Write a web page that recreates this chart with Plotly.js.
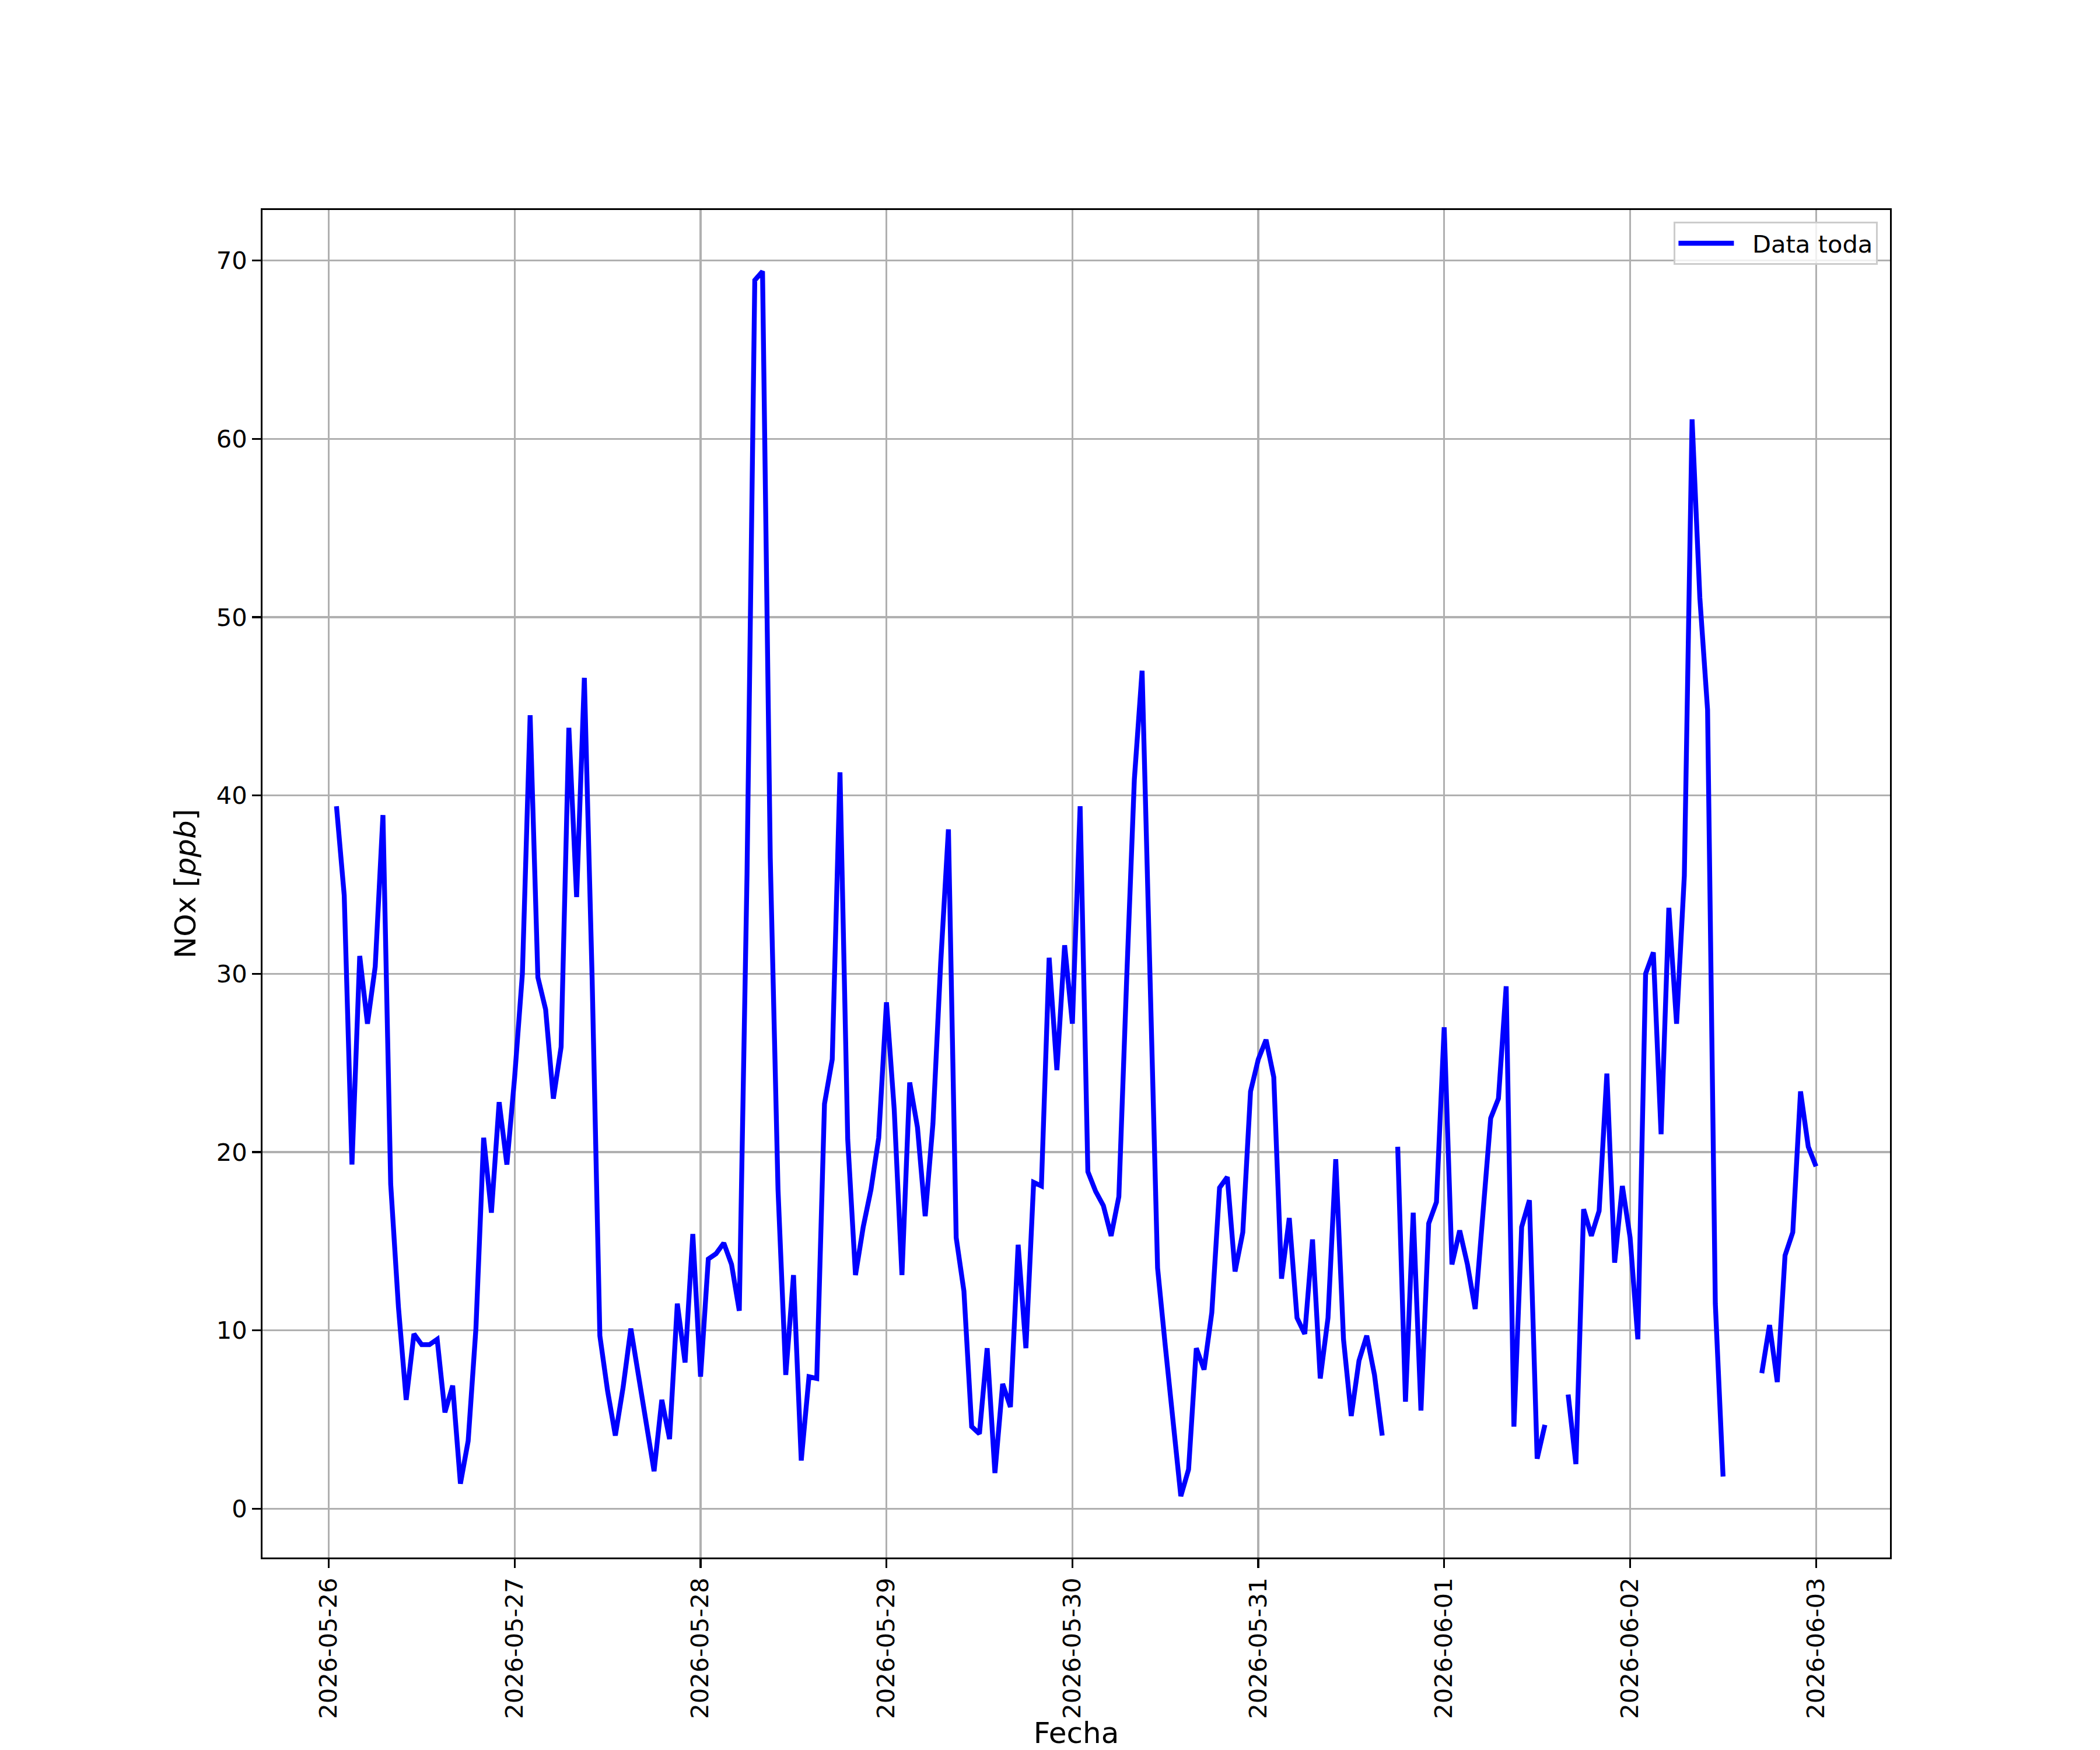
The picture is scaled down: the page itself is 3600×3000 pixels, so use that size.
<!DOCTYPE html>
<html>
<head>
<meta charset="utf-8">
<script src="https://cdn.plot.ly/plotly-3.0.1.min.js"></script>
<style>
  html, body { margin: 0; padding: 0; background: #ffffff; }
  #chart { width: 3600px; height: 3000px; }
</style>
</head>
<body>
<div id="chart"></div>
<script>
// ---- Data (hourly NOx values in ppb; null = missing) ----
const days = ['2026-05-26', '2026-05-27', '2026-05-28', '2026-05-29',
              '2026-05-30', '2026-05-31', '2026-06-01', '2026-06-02', '2026-06-03'];
const hours = ['00', '01', '02', '03', '04', '05', '06', '07', '08', '09', '10', '11',
               '12', '13', '14', '15', '16', '17', '18', '19', '20', '21', '22', '23'];

const nox_0526 = [null, 39.4, 34.4, 19.3, 31.0, 27.2, 30.4, 38.9, 18.2, 11.3, 6.1, 9.8,
                  9.2, 9.2, 9.5, 5.4, 6.9, 1.4, 3.8, 10.1, 20.8, 16.6, 22.8, 19.3];
const nox_0527 = [24.2, 30.0, 44.5, 29.8, 28.0, 23.0, 25.9, 43.8, 34.3, 46.6, 29.8, 9.7,
                  6.6, 4.1, 6.8, 10.1, 7.4, 4.6, 2.1, 6.1, 3.9, 11.5, 8.2, 15.4];
const nox_0528 = [7.4, 14.0, 14.3, 14.9, 13.7, 11.1, 35.6, 68.9, 69.4, 36.5, 17.9, 7.5,
                  13.1, 2.7, 7.4, 7.3, 22.7, 25.2, 41.3, 20.7, 13.1, 15.8, 17.9, 20.8];
const nox_0529 = [28.4, 22.4, 13.1, 23.9, 21.4, 16.4, 21.6, 30.6, 38.1, 15.2, 12.2, 4.6,
                  4.2, 9.0, 2.0, 7.0, 5.7, 14.8, 9.0, 18.3, 18.1, 30.9, 24.6, 31.6];
const nox_0530 = [27.2, 39.4, 18.9, 17.8, 17.0, 15.3, 17.5, 29.6, 40.9, 47.0, 29.5, 13.5,
                  9.1, 5.0, 0.7, 2.2, 9.0, 7.8, 11.0, 18.0, 18.6, 13.3, 15.5, 23.4];
const nox_0531 = [25.2, 26.3, 24.2, 12.9, 16.3, 10.7, 9.8, 15.1, 7.3, 10.7, 19.6, 9.5,
                  5.2, 8.3, 9.7, 7.5, 4.1, null, 20.3, 6.0, 16.6, 5.5, 16.0, 17.2];
const nox_0601 = [27.0, 13.7, 15.6, 13.7, 11.2, 16.6, 21.9, 23.0, 29.3, 4.6, 15.8, 17.3,
                  2.8, 4.7, null, null, 6.4, 2.5, 16.8, 15.3, 16.7, 24.4, 13.8, 18.1];
const nox_0602 = [15.2, 9.5, 30.0, 31.2, 21.0, 33.7, 27.2, 35.5, 61.1, 51.1, 44.8, 11.5,
                  1.8, null, null, null, null, 7.6, 10.3, 7.1, 14.2, 15.5, 23.4, 20.3];
const nox_0603 = [19.2];

const dailyValues = [nox_0526, nox_0527, nox_0528, nox_0529, nox_0530,
                     nox_0531, nox_0601, nox_0602, nox_0603];

const yTicks = [0, 10, 20, 30, 40, 50, 60, 70];
const seriesName = 'Data toda';

// ---- Build the series from the named arrays ----
const xs = [];
const ys = [];
days.forEach(function (d, i) {
  dailyValues[i].forEach(function (v, h) {
    xs.push(d + ' ' + hours[h] + ':00');
    ys.push(v);
  });
});

const PT = 300 / 72;           // points -> pixels at 300 dpi
const FONT = 'DejaVu Sans, Liberation Sans, sans-serif';

const trace = {
  x: xs,
  y: ys,
  type: 'scatter',
  mode: 'lines',
  name: '\u00a0\u00a0' + seriesName,
  connectgaps: false,
  showlegend: true,
  line: { color: '#0000ff', width: 2 * PT }
};

const axisCommon = {
  showline: true,
  mirror: true,
  linecolor: '#000000',
  linewidth: 0.8 * PT,
  showgrid: true,
  gridcolor: '#b0b0b0',
  gridwidth: 0.8 * PT,
  zeroline: false,
  ticks: 'outside',
  ticklen: 3.5 * PT,
  tickwidth: 0.8 * PT,
  tickcolor: '#000000',
  tickfont: { family: FONT, size: 10 * PT, color: '#000000' }
};

const layout = {
  width: 3600,
  height: 3000,
  paper_bgcolor: '#ffffff',
  plot_bgcolor: '#ffffff',
  margin: { l: 450, r: 360, t: 360, b: 330, pad: 0 },
  font: { family: FONT, size: 10 * PT, color: '#000000' },
  showlegend: true,
  xaxis: Object.assign({}, axisCommon, {
    type: 'date',
    range: ['2026-05-25 15:27', '2026-06-03 09:33'],
    tick0: '2026-05-26',
    dtick: 86400000,
    tickformat: '%Y-%m-%d',
    tickangle: -90,
    automargin: false,
    title: { text: 'Fecha', font: { family: FONT, size: 12 * PT, color: '#000000' }, standoff: 32 }
  }),
  yaxis: Object.assign({}, axisCommon, {
    range: [-2.74, 72.84],
    tickvals: yTicks,
    ticktext: yTicks.map(String),
    automargin: false,
    title: { text: 'NOx [<i>ppb</i>]', font: { family: FONT, size: 12 * PT, color: '#000000' }, standoff: 20 }
  }),
  legend: {
    x: 0.9925,
    y: 0.9913,
    xanchor: 'right',
    yanchor: 'top',
    bgcolor: 'rgba(255,255,255,0.8)',
    bordercolor: '#cccccc',
    borderwidth: 0.8 * PT,
    itemwidth: 95,
    font: { family: FONT, size: 10 * PT, color: '#000000' }
  }
};

Plotly.newPlot('chart', [trace], layout, { displayModeBar: false, staticPlot: true });
</script>
</body>
</html>
